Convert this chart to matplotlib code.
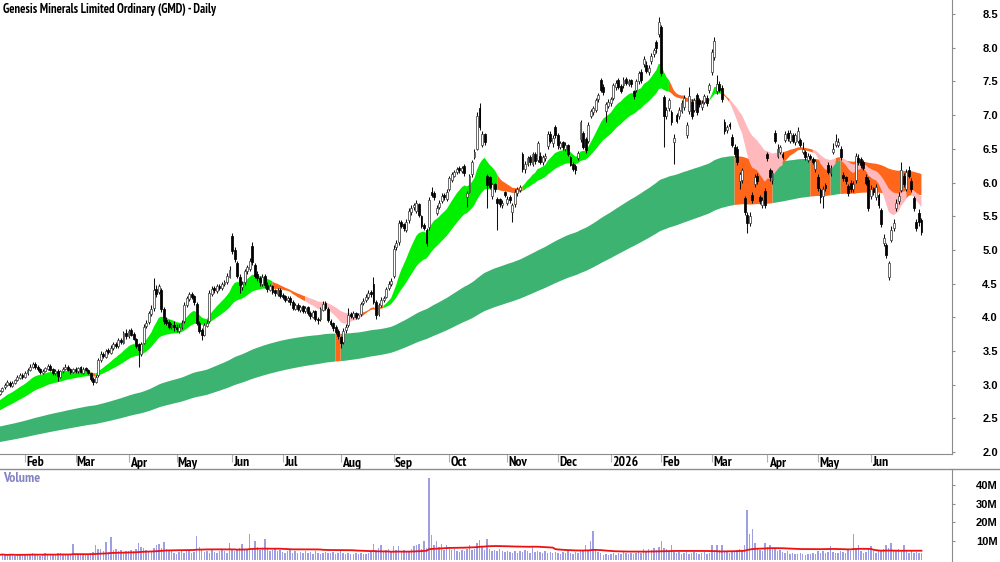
import numpy as np
import pandas as pd
import matplotlib
matplotlib.use("Agg")
import matplotlib.pyplot as plt
from matplotlib import font_manager
from matplotlib.lines import Line2D
from matplotlib.transforms import blended_transform_factory

# ASX trading days shown on the chart
holidays = ["2025-01-27", "2025-04-18", "2025-04-21", "2025-04-25", "2025-06-09",
            "2025-12-25", "2025-12-26", "2026-01-01", "2026-01-26", "2026-04-03",
            "2026-04-06", "2026-06-08"]
dates = pd.bdate_range("2025-01-17", "2026-06-30", freq="C", holidays=holidays)

open_ = [
    2.86, 2.91, 2.96, 3.00, 3.03, 2.98, 3.03, 3.07, 3.10, 3.15,  # Jan 25
    3.12, 3.17, 3.22, 3.27, 3.31, 3.27, 3.23, 3.18, 3.21, 3.24, 3.28, 3.23, 3.17, 3.21, 3.12, 3.20, 3.24, 3.27, 3.23, 3.19,
    3.24, 3.20, 3.26, 3.18, 3.25, 3.22, 3.17, 3.09, 3.04, 3.14, 3.36, 3.46, 3.41, 3.51, 3.47, 3.54, 3.61, 3.57, 3.67, 3.62, 3.77,
    3.72, 3.81, 3.75, 3.68, 3.60, 3.46, 3.62, 3.87, 3.93, 4.05, 4.14, 4.42, 4.38, 4.40, 4.12, 3.96, 3.93, 3.85, 3.89,
    3.86, 3.80, 3.85, 3.94, 4.18, 4.27, 4.35, 4.31, 4.20, 3.91, 3.81, 3.74, 3.87, 3.94, 4.35, 4.43, 4.39, 4.47, 4.43, 4.49, 4.53, 4.60,
    5.20, 5.00, 4.80, 4.60, 4.45, 4.52, 4.68, 4.72, 5.06, 4.78, 4.64, 4.58, 4.50, 4.62, 4.48, 4.41, 4.46, 4.40, 4.35, 4.41,
    4.33, 4.31, 4.25, 4.29, 4.23, 4.13, 4.19, 4.11, 4.17, 4.09, 4.15, 4.07, 4.01, 4.09, 3.97, 3.97, 4.11, 4.21, 4.12, 3.95, 3.91, 3.85, 3.79,
    3.71, 3.64, 3.81, 3.88, 4.05, 4.01, 4.07, 3.99, 4.05, 4.21, 4.25, 4.30, 4.37, 4.50, 4.22, 4.05, 4.18, 4.25, 4.30, 4.43, 4.50,
    4.62, 5.04, 5.12, 5.42, 5.38, 5.30, 5.44, 5.56, 5.63, 5.58, 5.68, 5.50, 5.37, 5.30, 5.34, 5.86, 5.84, 5.55, 5.64, 5.72, 5.81, 5.76,
    5.90, 6.04, 6.10, 6.15, 6.22, 6.17, 6.24, 5.78, 5.86, 6.12, 6.38, 6.50, 7.10, 6.55, 6.72, 6.10, 6.08, 5.80, 5.98, 5.76, 5.75, 5.67, 5.86,
    5.70, 5.78, 5.56, 5.68, 5.84, 5.89, 6.42, 6.20, 6.28, 6.38, 6.28, 6.42, 6.34, 6.40, 6.30, 6.36, 6.54, 6.72, 6.58, 6.82,
    6.70, 6.52, 6.60, 6.50, 6.55, 6.38, 6.28, 6.24, 6.36, 6.64, 6.74, 6.64, 6.62, 6.98, 7.04, 7.08, 7.24, 7.52, 7.42, 7.06, 7.14,
    7.18, 7.26, 7.42, 7.52, 7.43, 7.44, 7.53, 7.46, 7.52, 7.36, 7.38, 7.50, 7.64, 7.76, 7.74, 7.64, 7.80, 7.90, 8.08, 8.20,  # Jan 26
    8.30, 7.27, 6.98, 7.10, 7.04, 6.60, 7.00, 6.98, 7.06, 7.12, 6.70, 7.06, 7.20, 7.08, 7.30, 7.22, 7.12, 7.20, 7.26, 7.37,
    7.64, 7.86, 7.36, 7.46, 7.40, 6.90, 6.78, 6.87, 6.68, 6.53, 6.50, 6.02, 6.04, 5.77, 5.52, 5.40, 5.82, 5.98, 6.10, 5.78, 5.66, 5.88,
    6.43, 6.18, 6.03, 6.73, 6.40, 6.45, 6.43, 6.63, 6.74, 6.62, 6.70, 6.60, 6.62, 6.63, 6.45, 6.45, 6.33, 6.40, 6.35, 6.20,
    6.08, 5.89, 5.80, 5.97, 6.26, 6.14, 6.45, 6.56, 6.55, 6.50, 6.11, 6.08, 5.95, 6.00, 5.90, 6.04, 6.37, 6.35, 6.30, 6.08, 6.04,
    5.80, 5.92, 5.78, 5.81, 5.59, 5.10, 5.07, 4.60, 5.15, 5.32, 5.62, 5.72, 5.89, 6.10, 5.90, 6.19, 6.02, 5.77, 5.41, 5.55, 5.44,
]
high = [
    2.92, 2.97, 3.03, 3.07, 3.05, 3.05, 3.09, 3.14, 3.17, 3.17,
    3.20, 3.25, 3.30, 3.34, 3.33, 3.29, 3.25, 3.23, 3.27, 3.31, 3.30, 3.25, 3.23, 3.23, 3.22, 3.26, 3.30, 3.29, 3.25, 3.25,
    3.26, 3.27, 3.28, 3.26, 3.27, 3.24, 3.18, 3.12, 3.15, 3.40, 3.50, 3.48, 3.53, 3.54, 3.59, 3.64, 3.63, 3.70, 3.70, 3.80, 3.82,
    3.83, 3.84, 3.78, 3.70, 3.62, 3.64, 3.90, 3.96, 4.10, 4.18, 4.58, 4.48, 4.50, 4.44, 4.16, 4.00, 3.96, 3.92, 3.94,
    3.90, 3.90, 3.96, 4.22, 4.32, 4.38, 4.38, 4.33, 4.22, 3.95, 3.84, 3.91, 3.96, 4.40, 4.46, 4.46, 4.50, 4.50, 4.53, 4.56, 4.66, 4.76,
    5.25, 5.04, 4.84, 4.64, 4.54, 4.72, 4.78, 4.88, 5.12, 4.80, 4.68, 4.62, 4.64, 4.64, 4.52, 4.50, 4.48, 4.42, 4.44, 4.43,
    4.36, 4.33, 4.31, 4.31, 4.25, 4.21, 4.21, 4.19, 4.19, 4.17, 4.17, 4.09, 4.11, 4.11, 4.00, 4.15, 4.24, 4.24, 4.15, 3.98, 3.93, 3.88, 3.82,
    3.73, 3.84, 3.90, 4.14, 4.08, 4.09, 4.08, 4.06, 4.23, 4.28, 4.34, 4.40, 4.40, 4.60, 4.26, 4.21, 4.30, 4.32, 4.45, 4.54, 4.58,
    5.07, 5.15, 5.45, 5.45, 5.40, 5.46, 5.62, 5.66, 5.70, 5.74, 5.70, 5.52, 5.40, 5.33, 5.78, 5.94, 5.88, 5.66, 5.74, 5.84, 5.84, 5.90,
    6.10, 6.15, 6.19, 6.23, 6.25, 6.25, 6.27, 5.88, 6.12, 6.33, 6.50, 7.05, 7.18, 6.76, 6.74, 6.12, 6.10, 6.00, 6.00, 5.78, 5.77, 5.74, 5.88,
    5.80, 5.82, 5.70, 5.90, 5.94, 5.97, 6.46, 6.32, 6.40, 6.41, 6.46, 6.45, 6.62, 6.46, 6.41, 6.44, 6.76, 6.76, 6.70, 6.86,
    6.74, 6.62, 6.62, 6.60, 6.57, 6.40, 6.31, 6.27, 6.47, 6.93, 6.77, 6.67, 6.90, 7.09, 7.14, 7.26, 7.33, 7.55, 7.46, 7.19, 7.24,
    7.27, 7.47, 7.52, 7.55, 7.46, 7.56, 7.56, 7.54, 7.54, 7.38, 7.54, 7.66, 7.68, 7.88, 7.80, 7.74, 7.92, 8.00, 8.12, 8.45,
    8.34, 7.30, 7.12, 7.26, 7.08, 6.72, 7.03, 7.12, 7.22, 7.30, 6.90, 7.42, 7.24, 7.26, 7.33, 7.26, 7.22, 7.32, 7.30, 7.48,
    7.98, 8.16, 7.60, 7.50, 7.44, 6.94, 6.86, 6.90, 6.72, 6.57, 6.54, 6.16, 6.22, 5.80, 5.56, 5.56, 5.86, 6.13, 6.14, 5.81, 5.78, 5.92,
    6.46, 6.22, 6.18, 6.78, 6.57, 6.56, 6.46, 6.76, 6.78, 6.78, 6.74, 6.74, 6.82, 6.66, 6.60, 6.48, 6.44, 6.43, 6.38, 6.35,
    6.12, 5.92, 5.95, 6.00, 6.30, 6.26, 6.58, 6.72, 6.66, 6.54, 6.15, 6.10, 5.98, 6.03, 6.02, 6.44, 6.42, 6.38, 6.33, 6.12, 6.08,
    5.96, 5.94, 5.98, 5.84, 5.62, 5.24, 5.10, 4.84, 5.36, 5.46, 5.76, 5.86, 6.30, 6.14, 6.20, 6.24, 6.06, 5.80, 5.46, 5.60, 5.48,
]
low = [
    2.84, 2.89, 2.94, 2.98, 2.96, 2.96, 3.01, 3.05, 3.08, 3.09,
    3.10, 3.15, 3.20, 3.25, 3.24, 3.20, 3.16, 3.16, 3.19, 3.22, 3.20, 3.15, 3.15, 3.06, 3.10, 3.18, 3.22, 3.20, 3.16, 3.17,
    3.18, 3.18, 3.17, 3.16, 3.20, 3.16, 3.05, 2.99, 3.02, 3.12, 3.34, 3.39, 3.39, 3.45, 3.45, 3.52, 3.54, 3.55, 3.60, 3.60, 3.68,
    3.70, 3.72, 3.66, 3.55, 3.27, 3.42, 3.60, 3.84, 3.90, 4.02, 4.10, 4.30, 4.34, 4.08, 3.90, 3.88, 3.82, 3.82, 3.80,
    3.78, 3.77, 3.82, 3.92, 4.15, 4.24, 4.27, 4.18, 3.88, 3.76, 3.66, 3.72, 3.85, 3.92, 4.32, 4.36, 4.36, 4.40, 4.41, 4.46, 4.50, 4.58,
    4.94, 4.82, 4.58, 4.36, 4.40, 4.48, 4.64, 4.68, 4.78, 4.58, 4.54, 4.46, 4.47, 4.44, 4.38, 4.39, 4.34, 4.31, 4.32, 4.28,
    4.27, 4.23, 4.22, 4.19, 4.11, 4.11, 4.09, 4.08, 4.07, 4.07, 4.03, 3.98, 3.99, 3.95, 3.90, 3.95, 4.09, 4.11, 3.93, 3.87, 3.80, 3.75, 3.68,
    3.55, 3.60, 3.76, 3.86, 3.99, 3.98, 3.97, 3.97, 4.02, 4.18, 4.22, 4.27, 4.30, 4.20, 3.98, 4.02, 4.15, 4.22, 4.28, 4.40, 4.47,
    4.58, 5.00, 5.08, 5.32, 5.28, 5.27, 5.40, 5.52, 5.59, 5.55, 5.49, 5.33, 5.29, 5.06, 5.30, 5.78, 5.74, 5.52, 5.60, 5.69, 5.74, 5.72,
    5.88, 6.01, 6.08, 6.12, 6.14, 6.14, 6.10, 5.64, 5.84, 6.08, 6.35, 6.48, 6.78, 6.52, 6.56, 5.62, 5.90, 5.76, 5.86, 5.30, 5.64, 5.62, 5.78,
    5.66, 5.70, 5.41, 5.64, 5.80, 5.86, 6.16, 6.14, 6.24, 6.26, 6.25, 6.28, 6.31, 6.27, 6.26, 6.32, 6.50, 6.58, 6.52, 6.66,
    6.50, 6.49, 6.48, 6.47, 6.40, 6.24, 6.17, 6.13, 6.33, 6.60, 6.49, 6.44, 6.58, 6.95, 7.00, 7.05, 7.20, 7.34, 7.30, 6.90, 7.10,
    7.14, 7.22, 7.38, 7.39, 7.33, 7.40, 7.44, 7.43, 7.42, 7.24, 7.34, 7.46, 7.48, 7.72, 7.62, 7.60, 7.76, 7.86, 7.92, 8.16,
    7.58, 6.52, 6.94, 7.06, 6.86, 6.28, 6.88, 6.94, 7.03, 7.08, 6.66, 7.02, 6.94, 7.04, 7.00, 7.12, 7.08, 7.16, 7.14, 7.33,
    7.60, 7.82, 7.32, 7.34, 7.20, 6.72, 6.74, 6.80, 6.52, 6.38, 6.26, 5.90, 6.00, 5.52, 5.25, 5.36, 5.70, 5.94, 5.98, 5.68, 5.62, 5.62,
    6.32, 6.02, 5.98, 6.58, 6.36, 6.42, 6.35, 6.60, 6.62, 6.58, 6.58, 6.56, 6.58, 6.52, 6.42, 6.34, 6.30, 6.33, 6.27, 6.16,
    5.88, 5.70, 5.62, 5.88, 6.12, 6.10, 6.42, 6.52, 6.52, 6.34, 6.02, 5.98, 5.80, 5.86, 5.86, 6.00, 6.26, 6.22, 6.18, 5.96, 5.58,
    5.76, 5.82, 5.74, 5.62, 5.34, 5.06, 4.88, 4.55, 5.12, 5.28, 5.58, 5.68, 5.86, 5.94, 5.88, 6.06, 5.86, 5.58, 5.28, 5.36, 5.22,
]
close = [
    2.90, 2.95, 3.00, 3.04, 2.99, 3.02, 3.07, 3.11, 3.14, 3.12,
    3.18, 3.22, 3.27, 3.31, 3.26, 3.23, 3.19, 3.21, 3.25, 3.28, 3.22, 3.18, 3.20, 3.13, 3.20, 3.24, 3.27, 3.22, 3.19, 3.23,
    3.21, 3.25, 3.19, 3.24, 3.22, 3.18, 3.08, 3.04, 3.12, 3.36, 3.45, 3.42, 3.50, 3.48, 3.55, 3.60, 3.58, 3.66, 3.63, 3.76, 3.72,
    3.80, 3.74, 3.68, 3.58, 3.52, 3.60, 3.86, 3.92, 4.06, 4.12, 4.40, 4.35, 4.46, 4.12, 3.95, 3.92, 3.86, 3.88, 3.85,
    3.82, 3.86, 3.92, 4.18, 4.28, 4.34, 4.30, 4.22, 3.92, 3.80, 3.74, 3.88, 3.92, 4.36, 4.42, 4.40, 4.46, 4.44, 4.50, 4.52, 4.62, 4.70,
    4.98, 4.86, 4.62, 4.48, 4.50, 4.68, 4.74, 4.84, 4.82, 4.62, 4.58, 4.52, 4.60, 4.48, 4.42, 4.46, 4.38, 4.36, 4.40, 4.32,
    4.30, 4.26, 4.28, 4.22, 4.14, 4.18, 4.12, 4.16, 4.10, 4.14, 4.06, 4.02, 4.08, 3.98, 3.96, 4.12, 4.20, 4.14, 3.96, 3.90, 3.84, 3.78, 3.72,
    3.62, 3.80, 3.86, 4.04, 4.02, 4.06, 4.00, 4.04, 4.20, 4.24, 4.30, 4.36, 4.34, 4.22, 4.04, 4.18, 4.26, 4.28, 4.42, 4.50, 4.54,
    5.02, 5.10, 5.40, 5.36, 5.32, 5.42, 5.58, 5.62, 5.66, 5.70, 5.52, 5.36, 5.32, 5.10, 5.74, 5.82, 5.78, 5.62, 5.70, 5.80, 5.78, 5.86,
    6.06, 6.12, 6.16, 6.20, 6.18, 6.22, 6.14, 5.84, 6.10, 6.30, 6.45, 6.98, 6.82, 6.72, 6.60, 5.96, 5.94, 5.98, 5.90, 5.70, 5.68, 5.70, 5.82,
    5.76, 5.74, 5.66, 5.86, 5.90, 5.94, 6.20, 6.28, 6.36, 6.30, 6.42, 6.32, 6.58, 6.30, 6.38, 6.40, 6.72, 6.62, 6.66, 6.70,
    6.55, 6.58, 6.52, 6.56, 6.42, 6.26, 6.20, 6.18, 6.44, 6.90, 6.52, 6.48, 6.86, 7.06, 7.10, 7.22, 7.30, 7.38, 7.34, 7.16, 7.20,
    7.24, 7.44, 7.48, 7.42, 7.36, 7.52, 7.48, 7.50, 7.46, 7.28, 7.50, 7.62, 7.52, 7.84, 7.66, 7.70, 7.88, 7.96, 8.00, 8.38,
    7.62, 6.98, 7.08, 7.22, 6.90, 6.66, 6.92, 7.08, 7.18, 7.26, 6.86, 7.28, 6.98, 7.22, 7.04, 7.16, 7.18, 7.28, 7.18, 7.44,
    7.94, 8.10, 7.46, 7.38, 7.24, 6.76, 6.82, 6.84, 6.56, 6.42, 6.30, 6.12, 6.18, 5.56, 5.40, 5.50, 5.74, 6.08, 6.02, 5.72, 5.74, 5.66,
    6.36, 6.08, 6.14, 6.62, 6.50, 6.52, 6.38, 6.72, 6.66, 6.74, 6.62, 6.70, 6.76, 6.56, 6.50, 6.38, 6.40, 6.36, 6.30, 6.32,
    5.92, 5.78, 5.90, 5.92, 6.16, 6.22, 6.50, 6.62, 6.60, 6.38, 6.06, 6.02, 5.84, 5.90, 5.98, 6.40, 6.30, 6.26, 6.22, 6.00, 5.62,
    5.90, 5.86, 5.94, 5.66, 5.38, 5.18, 4.92, 4.80, 5.30, 5.40, 5.70, 5.80, 6.18, 5.98, 6.16, 6.10, 5.90, 5.62, 5.32, 5.42, 5.26,
]
volume_m = [
    2.6, 3.0, 2.4, 2.2, 3.2, 2.8, 2.0, 2.6, 3.0, 2.4,
    2.8, 3.2, 2.6, 3.4, 2.4, 3.0, 2.2, 2.6, 3.6, 2.8, 2.4, 3.0, 2.6, 3.8, 3.4, 2.8, 2.6, 3.2, 2.4, 8.2,
    2.6, 3.0, 2.4, 3.2, 2.8, 2.6, 3.6, 4.2, 7.8, 5.6, 5.8, 4.4, 9.4, 4.0, 12.0, 5.0, 5.6, 4.4, 5.0, 3.8, 4.6,
    4.4, 5.2, 4.8, 6.0, 9.1, 6.8, 6.4, 5.4, 4.6, 4.8, 6.2, 8.0, 8.2, 6.4, 9.6, 6.0, 5.2, 4.6, 3.6,
    3.2, 4.0, 4.6, 3.8, 4.4, 5.0, 3.6, 4.2, 12.6, 7.0, 5.4, 4.0, 4.6, 3.8, 5.0, 4.2, 3.6, 4.8, 5.2, 4.4, 3.8, 9.2,
    5.8, 4.6, 5.0, 6.4, 8.6, 6.0, 5.2, 13.8, 6.0, 10.0, 7.0, 5.4, 6.2, 11.0, 5.6, 4.8, 5.2, 6.0, 4.6, 5.4,
    4.2, 3.8, 4.6, 5.0, 3.6, 4.4, 3.8, 4.2, 3.4, 4.6, 3.8, 4.0, 3.2, 4.4, 3.6, 3.0, 3.8, 4.2, 3.4, 3.6, 4.0, 3.2, 3.8,
    4.6, 3.6, 3.0, 3.8, 3.2, 2.8, 3.4, 3.0, 3.6, 3.2, 2.8, 3.4, 4.0, 8.6, 5.0, 6.4, 7.8, 4.6, 5.2, 6.0, 4.4,
    7.3, 5.0, 7.3, 4.6, 5.4, 4.0, 4.8, 5.6, 7.5, 8.0, 8.6, 6.0, 10.0, 6.4, 44.0, 13.2, 8.0, 10.0, 6.6, 8.6, 5.4, 8.0,
    6.4, 5.0, 5.6, 4.6, 4.2, 5.4, 4.8, 6.0, 7.8, 5.2, 6.0, 9.2, 10.4, 6.8, 5.4, 11.0, 6.0, 4.6, 5.2, 4.4, 5.6, 4.8, 4.0,
    4.4, 4.0, 3.4, 4.8, 3.8, 4.6, 4.2, 5.0, 4.6, 3.8, 7.3, 4.2, 4.8, 4.0, 3.6, 4.4, 3.8, 4.2, 3.4, 4.0,
    3.6, 3.2, 4.0, 3.4, 4.4, 3.8, 3.2, 4.2, 3.6, 4.6, 5.0, 8.0, 4.4, 10.0, 15.4, 5.4, 4.0, 3.4, 2.6, 3.0, 2.4,
    2.8, 3.4, 2.6, 3.8, 3.2, 4.0, 3.6, 2.8, 3.4, 3.0, 3.6, 4.2, 3.4, 5.6, 4.8, 6.0, 5.2, 6.4, 5.0, 6.8,
    10.0, 6.4, 5.6, 4.8, 7.8, 4.2, 3.6, 4.0, 3.2, 3.8, 4.4, 3.0, 3.6, 4.2, 3.4, 2.8, 3.6, 4.0, 3.2, 3.8,
    8.0, 4.6, 8.0, 5.0, 8.0, 4.8, 4.2, 3.8, 4.4, 4.0, 5.2, 6.0, 4.6, 7.8, 26.6, 13.6, 16.4, 9.0, 6.2, 5.4, 4.8, 9.2,
    7.0, 8.0, 6.4, 5.6, 4.8, 5.4, 4.2, 3.6, 4.4, 3.0, 3.8, 3.2, 2.8, 3.4, 3.0, 2.6, 3.2, 2.8, 3.6, 3.0,
    4.4, 3.8, 4.6, 3.6, 4.2, 7.3, 4.0, 3.4, 3.8, 4.6, 4.0, 3.6, 5.0, 4.4, 14.0, 6.0, 8.0, 4.6, 3.8, 4.2, 5.6,
    7.3, 4.6, 3.8, 5.2, 4.4, 6.0, 8.0, 6.4, 8.8, 5.0, 4.6, 5.8, 4.2, 8.0, 4.8, 3.8, 4.4, 3.6, 4.2, 3.4, 3.8,
]

# moving-average ribbons: periods and their values on the first bar shown
short_periods = [14, 17, 20, 24, 28, 34]
short_seeds = [2.77, 2.74, 2.71, 2.68, 2.65, 2.62]
long_periods = [150, 170, 190, 215, 250]
long_seeds = [2.38, 2.33, 2.28, 2.22, 2.15]

title = "Genesis Minerals Limited Ordinary (GMD) - Daily"

GREEN = "#00f000"
ORANGE = "#ff661a"
PINK = "#ffb8bc"
DARK_GREEN = "#3cb371"
AXIS = "#8c8c8c"


def _is_bold(w):
    if isinstance(w, str):
        return w == "bold" or (w.isdigit() and int(w) >= 600)
    return w >= 600


narrow_file = None
for f in font_manager.fontManager.ttflist:
    if "Narrow" in f.name and _is_bold(f.weight) and f.style == "normal":
        narrow_file = f.fname
        break

plt.rcParams["font.family"] = ["Liberation Sans", "DejaVu Sans"]


def label_font(size):
    if narrow_file:
        return font_manager.FontProperties(fname=narrow_file, size=size)
    return font_manager.FontProperties(family=["Liberation Sans", "DejaVu Sans"],
                                       weight="bold", size=size)


def ema(values, period, seed):
    alpha = 2.0 / (period + 1)
    out = np.empty(len(values))
    prev = seed
    for k, v in enumerate(values):
        if k > 0:
            prev = prev + alpha * (v - prev)
        out[k] = prev
    return out


def ema_lines(values, periods, seeds):
    return np.array([ema(values, p, s) for p, s in zip(periods, seeds)])


def order_state(lines):
    # 0 = fast above slow all through, 2 = fully inverted, 1 = mixed
    gaps = lines[:-1] - lines[1:]
    return np.where((gaps > 0).all(axis=0), 0, np.where((gaps < 0).all(axis=0), 2, 1))


def slope_state(lines):
    d = np.diff(lines, axis=1)
    d = np.concatenate([d[:, :1], d], axis=1)
    return np.where((d > 0).all(axis=0), 0, 1)


def fill_ribbon(ax, x, lines, state, colors, z):
    lo, hi = lines.min(axis=0), lines.max(axis=0)
    for s, col in colors.items():
        m = state == s
        ext = m | np.r_[m[1:], False]
        ax.fill_between(x, lo, hi, where=ext, color=col, lw=0, zorder=z)


o = np.array(open_)
h = np.array(high)
l = np.array(low)
c = np.array(close)
v = np.array(volume_m)
n = len(c)
assert len(o) == len(h) == len(l) == len(v) == n == len(dates)
x = np.arange(n)

short_lines = ema_lines(c, short_periods, short_seeds)
long_lines = ema_lines(c, long_periods, long_seeds)

fig = plt.figure(figsize=(10, 5.62), dpi=100)
ax = fig.add_axes([0, 1 - 454 / 562, 0.952, 454 / 562])
axv = fig.add_axes([0, 0, 0.952, 93 / 562])

fill_ribbon(ax, x, long_lines, slope_state(long_lines), {0: DARK_GREEN, 1: ORANGE}, 1)
fill_ribbon(ax, x, short_lines, order_state(short_lines), {0: GREEN, 1: ORANGE, 2: PINK}, 2)

up = c >= o
body_lo = np.minimum(o, c)
body_h = np.maximum(np.abs(c - o), 0.012)
ax.vlines(x, l, h, color="#111111", lw=0.75, zorder=3)
ax.bar(x[up], body_h[up], bottom=body_lo[up], width=0.74, color="white",
       edgecolor="#444444", lw=0.55, zorder=4)
ax.bar(x[~up], body_h[~up], bottom=body_lo[~up], width=0.74, color="black",
       edgecolor="black", lw=0.55, zorder=4)

ax.set_xlim(0.1, 377.1)
ax.set_ylim(1.972, 8.708)
for side in ("top", "left"):
    ax.spines[side].set_visible(False)
for side in ("right", "bottom"):
    ax.spines[side].set_color(AXIS)
ax.yaxis.tick_right()
ticks = np.arange(2.0, 8.51, 0.5)
ax.set_yticks(ticks)
ax.set_yticklabels([f"{t:.1f}" for t in ticks], fontsize=8, fontweight="bold")
ax.tick_params(axis="y", direction="out", length=2, color=AXIS, pad=31)
for lab in ax.get_yticklabels():
    lab.set_horizontalalignment("right")

month_idx = [k for k in range(1, n) if dates[k].month != dates[k - 1].month]
ax.set_xticks(month_idx)
ax.set_xticklabels([])
ax.tick_params(axis="x", direction="out", length=6, color="#b0b0b0")
trans = blended_transform_factory(ax.transData, ax.transAxes)
for k in month_idx:
    lab = dates[k].strftime("%Y") if dates[k].month == 1 else dates[k].strftime("%b")
    ax.text(k + 0.5, -9 / 454, lab, transform=trans, ha="left", va="center",
            fontproperties=label_font(9.8 if narrow_file else 7.8))

# volume panel
avg = pd.Series(v).rolling(50, min_periods=1).mean()
axv.bar(x, v, width=0.58, color="#9e9ee2", lw=0)
axv.plot(x, avg, color="#ee1111", lw=1.3)
axv.set_xlim(0.1, 377.1)
axv.set_ylim(-1.23, 48.6)
for side in ("top", "left", "bottom"):
    axv.spines[side].set_visible(False)
axv.spines["right"].set_color(AXIS)
axv.set_xticks([])
axv.yaxis.tick_right()
axv.set_yticks([10, 20, 30, 40])
axv.set_yticklabels(["10M", "20M", "30M", "40M"], fontsize=8, fontweight="bold")
axv.tick_params(axis="y", direction="out", length=2, color=AXIS, pad=31)
for lab in axv.get_yticklabels():
    lab.set_horizontalalignment("right")

fig.add_artist(Line2D([0, 1], [1 - 469 / 562] * 2, transform=fig.transFigure, color=AXIS, lw=1))
fig.text(0.003, 1 - 478 / 562, "Volume", color="#8484c4", va="center",
         fontproperties=label_font(10 if narrow_file else 8))
title_text = fig.text(0.003, 1 - 9 / 562, title, va="center", fontproperties=label_font(8.6))

# fit the title to the width it takes in the chart (about 212 px)
renderer = fig.canvas.get_renderer()
w = title_text.get_window_extent(renderer=renderer).width
if w > 0:
    title_text.set_fontsize(8.6 * 212.0 / w)

fig.savefig("out.png", dpi=100, facecolor="white")
